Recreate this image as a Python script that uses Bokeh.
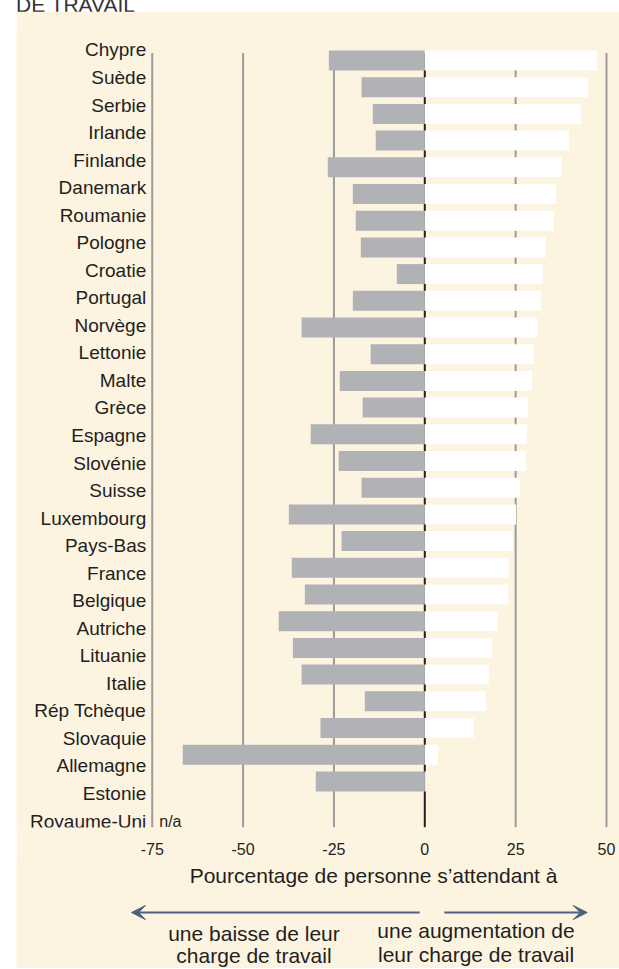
from bokeh.plotting import figure
from bokeh.models import (Range1d, FixedTicker, Div, Arrow, VeeHead, ColumnDataSource)
from bokeh.layouts import column
from bokeh.core.properties import value
from bokeh.embed import file_html
from bokeh.resources import INLINE

# ---------------- data ----------------
countries = ["Chypre", "Suède", "Serbie", "Irlande", "Finlande", "Danemark", "Roumanie",
             "Pologne", "Croatie", "Portugal", "Norvège", "Lettonie", "Malte", "Grèce",
             "Espagne", "Slovénie", "Suisse", "Luxembourg", "Pays-Bas", "France", "Belgique",
             "Autriche", "Lituanie", "Italie", "Rép Tchèque", "Slovaquie", "Allemagne",
             "Estonie", "Royaume-Uni"]
baisse = [-26.4, -17.4, -14.3, -13.5, -26.7, -19.8, -19.0, -17.6, -7.7, -19.8, -33.9, -14.9,
          -23.4, -17.1, -31.4, -23.7, -17.4, -37.4, -22.9, -36.6, -33.0, -40.2, -36.3, -33.9,
          -16.5, -28.7, -66.6, -30.0, None]
hausse = [47.4, 44.9, 43.0, 39.7, 37.7, 36.1, 35.5, 33.3, 32.5, 32.0, 30.9, 30.0, 29.5, 28.4,
          28.1, 27.8, 26.2, 25.1, 24.2, 23.1, 22.9, 20.1, 18.5, 17.6, 16.8, 13.5, 3.6, 0.3, None]
x_ticks = [-75, -50, -25, 0, 25, 50]
x_tick_labels = ["-75", "-50", "-25", "0", "25", "50"]
missing_label = "n/a"
title_text = "DE TRAVAIL"
x_title = "Pourcentage de personne s\u2019attendant à"
left_note = ["une baisse de leur", "charge de travail"]
right_note = ["une augmentation de", "leur charge de travail"]

# ---------------- style / layout constants ----------------
CREAM = "#fdf3e1"
GREY_BAR = "#b1b2b5"
GRID = "#9b9b9b"
DARK = "#231f20"
ARROW = "#50607e"
FONT = "Liberation Sans"
GRID_TOP, GRID_BOTTOM = 28.28, -0.7266

n = len(countries)
pos = [n - 1 - i for i in range(n)]
nan = float("nan")
src = ColumnDataSource(dict(
    pos=pos,
    country=countries,
    baisse=[nan if v is None else v for v in baisse],
    hausse=[nan if v is None else v for v in hausse],
))

X_RANGE = Range1d(-112.35, 53.58)

# ---------------- main chart ----------------
p = figure(width=603, height=851, x_range=X_RANGE, y_range=Range1d(-0.7266, 29.1236),
           output_backend="svg", toolbar_location=None, y_axis_location=None,
           min_border_left=0, min_border_right=0, min_border_top=19, min_border_bottom=35,
           background_fill_color=CREAM, border_fill_color=CREAM, outline_line_color=None,
           margin=(0, 0, 0, 16))
p.extra_y_ranges = {"labels": Range1d(-0.236, 28.708)}
p.xgrid.visible = False
p.ygrid.visible = False

# vertical reference lines (grey) and zero line (dark), under the bars
grid_ticks = [t for t in x_ticks if t != 0]
p.segment(x0=grid_ticks, x1=grid_ticks, y0=[GRID_BOTTOM] * len(grid_ticks),
          y1=[GRID_TOP] * len(grid_ticks), line_color=GRID, line_width=2)
p.segment(x0=[0], x1=[0], y0=[GRID_BOTTOM], y1=[GRID_TOP], line_color=DARK, line_width=2)

p.hbar(y="pos", left=0, right="baisse", height=0.75, fill_color=GREY_BAR, line_color=None,
       source=src)
p.hbar(y="pos", left=0, right="hausse", height=0.75, fill_color="white", line_color=None,
       source=src)

# country labels, right-aligned just left of the -75 line
p.text(x=[x_ticks[0]] * n, y=pos, text=countries, y_range_name="labels", x_offset=-6,
       text_align="right", text_baseline="middle", text_font=value(FONT),
       text_font_size=value("19px"), text_color=DARK)

# n/a for missing values
na_pos = [pp for pp, v in zip(pos, baisse) if v is None]
p.text(x=[x_ticks[0]] * len(na_pos), y=na_pos, text=[missing_label] * len(na_pos),
       y_range_name="labels", x_offset=7, text_align="left", text_baseline="middle",
       text_font=value(FONT), text_font_size=value("16px"), text_color=DARK)

xa = p.xaxis[0]
xa.ticker = FixedTicker(ticks=x_ticks)
xa.major_label_overrides = {t: s for t, s in zip(x_ticks, x_tick_labels)}
xa.axis_line_color = None
xa.major_tick_line_color = None
xa.minor_tick_line_color = None
xa.major_label_standoff = 9
xa.major_label_text_font = FONT
xa.major_label_text_font_size = "16px"
xa.major_label_text_color = DARK

# ---------------- axis title and bottom notes ----------------
b = figure(width=603, height=107, x_range=X_RANGE, y_range=Range1d(0, 107),
           output_backend="svg", toolbar_location=None, x_axis_location=None,
           y_axis_location=None, min_border_left=0, min_border_right=0, min_border_top=0,
           min_border_bottom=0, background_fill_color=CREAM, border_fill_color=CREAM,
           outline_line_color=None, margin=(-1, 0, 0, 16))
b.xgrid.visible = False
b.ygrid.visible = False
b.text(x=[-14.1], y=[93], text=[x_title], text_align="center", text_baseline="middle",
       text_font=value(FONT), text_font_size=value("21px"), text_color=DARK)
head = dict(size=14, fill_color=ARROW, line_color=ARROW)
b.add_layout(Arrow(x_start=-1.4, y_start=56, x_end=-80.7, y_end=56, line_color=ARROW,
                   line_width=2, end=VeeHead(**head)))
b.add_layout(Arrow(x_start=5.4, y_start=56, x_end=44.7, y_end=56, line_color=ARROW,
                   line_width=2, end=VeeHead(**head)))
b.text(x=[-47.0, -47.0, 14.1, 14.1], y=[35, 13, 38, 14], text=left_note + right_note,
       text_align="center", text_baseline="middle", text_font=value(FONT),
       text_font_size=value("21px"), text_color=DARK)

title = Div(text=f'<div style="position:relative; top:-7px; left:16px; white-space:nowrap; '
                 f'font-family:\'{FONT}\'; font-size:21px; line-height:24px; color:#333;">'
                 f'{title_text}</div>',
            width=400, height=11, margin=(0, 0, 0, 0))

layout = column(title, p, b, spacing=0)
open("out.html", "w").write(file_html(layout, INLINE))
